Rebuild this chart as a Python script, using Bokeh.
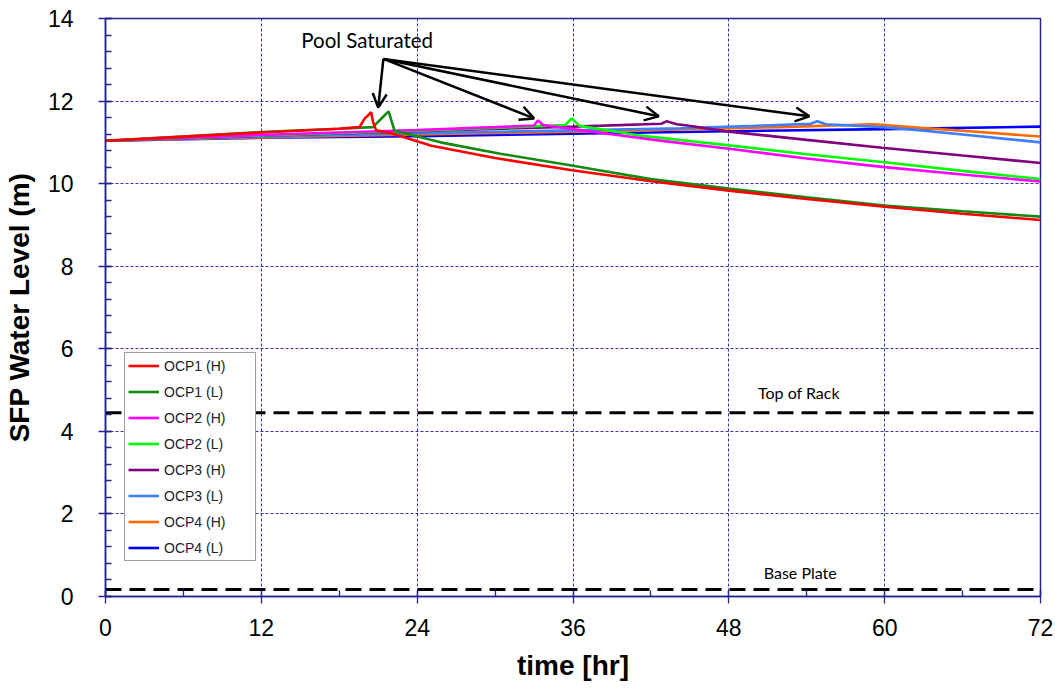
from bokeh.plotting import figure
from bokeh.models import (Range1d, SingleIntervalTicker, Arrow, OpenHead, Label,
                          ColumnDataSource)
from bokeh.embed import file_html
from bokeh.resources import INLINE

# ---------------- data ----------------
t_ocp1h = [0, 6, 12, 18, 19.56, 19.94, 20.46, 20.6, 20.85, 22, 25.1, 30, 35.8, 42, 48, 54, 60, 66, 72]
h_ocp1h = [11.04, 11.14, 11.24, 11.33, 11.37, 11.57, 11.73, 11.49, 11.29, 11.22, 10.92, 10.62, 10.33, 10.06, 9.83, 9.63, 9.44, 9.27, 9.12]

t_ocp1l = [0, 6, 12, 18, 20.6, 21.0, 21.8, 22.25, 22.8, 25.8, 30.5, 35.9, 37.9, 42, 48, 54, 60, 66, 72]
h_ocp1l = [11.04, 11.14, 11.25, 11.33, 11.37, 11.50, 11.75, 11.29, 11.24, 11.00, 10.72, 10.44, 10.33, 10.11, 9.88, 9.67, 9.47, 9.33, 9.20]

t_ocp2h = [0, 12, 24, 30, 33.0, 33.3, 33.7, 36, 39.4, 43, 48.2, 54, 60, 66, 72]
h_ocp2h = [11.04, 11.18, 11.30, 11.37, 11.41, 11.53, 11.42, 11.32, 11.18, 11.03, 10.84, 10.61, 10.40, 10.22, 10.05]

t_ocp2l = [0, 12, 24, 30, 35.4, 35.9, 36.5, 38.5, 41, 48.2, 54, 60, 66, 72]
h_ocp2l = [11.04, 11.17, 11.28, 11.35, 11.42, 11.58, 11.40, 11.30, 11.17, 10.92, 10.71, 10.52, 10.31, 10.11]

t_ocp3h = [0, 12, 24, 36, 42.8, 43.2, 44.0, 44.8, 48, 54, 59.8, 66, 72]
h_ocp3h = [11.04, 11.16, 11.27, 11.38, 11.45, 11.51, 11.44, 11.41, 11.26, 11.06, 10.87, 10.68, 10.50]

t_ocp3l = [0, 12, 24, 36, 44.3, 50, 54.3, 54.8, 55.5, 59.8, 62.8, 66, 72]
h_ocp3l = [11.04, 11.14, 11.22, 11.29, 11.34, 11.40, 11.45, 11.51, 11.44, 11.37, 11.29, 11.19, 11.00]

t_ocp4h = [0, 12, 24, 36, 44.3, 52, 59.2, 62.8, 66, 72]
h_ocp4h = [11.04, 11.12, 11.19, 11.26, 11.31, 11.37, 11.44, 11.35, 11.28, 11.14]

t_ocp4l = [0, 12, 24, 36, 48, 60, 72]
h_ocp4l = [11.04, 11.11, 11.15, 11.21, 11.27, 11.32, 11.38]

series_names = ["OCP1 (H)", "OCP1 (L)", "OCP2 (H)", "OCP2 (L)",
                "OCP3 (H)", "OCP3 (L)", "OCP4 (H)", "OCP4 (L)"]

top_of_rack = 4.45
base_plate = 0.17

annot_text = "Pool Saturated"
annot_t = 20.15
annot_h = 13.47
arrow_tail_t = 21.4
arrow_tail_h = 13.02
arrow_head_t = [21.0, 33.0, 42.6, 54.2]
arrow_head_h = [11.84, 11.58, 11.63, 11.63]

rack_label = "Top of Rack"
rack_label_t, rack_label_h = 53.4, 4.95
plate_label = "Base Plate"
plate_label_t, plate_label_h = 53.5, 0.58

x_label = "time [hr]"
y_label = "SFP Water Level (m)"

# ---------------- styling ----------------
colors = ["#FF0000", "#138A13", "#FF00FF", "#00FF00",
          "#800080", "#3F7FFF", "#FF6A00", "#0000FF"]
axis_col = "#24248C"
grid_col = "#3535A8"
ARIAL = "Liberation Sans"

p = figure(width=1053, height=688, output_backend="svg", toolbar_location=None,
           x_range=Range1d(0, 72), y_range=Range1d(0, 14),
           min_border_left=104, min_border_right=13, min_border_top=18,
           min_border_bottom=92, background_fill_color="white",
           border_fill_color="white")

p.outline_line_color = axis_col
p.outline_line_width = 1.5

p.xaxis.ticker = SingleIntervalTicker(interval=12, num_minor_ticks=2)
p.yaxis.ticker = SingleIntervalTicker(interval=2, num_minor_ticks=5)

for ax in (p.xaxis[0], p.yaxis[0]):
    ax.axis_line_color = axis_col
    ax.axis_line_width = 1.5
    ax.major_tick_line_color = axis_col
    ax.minor_tick_line_color = axis_col
    ax.major_tick_line_width = 1.3
    ax.minor_tick_line_width = 1.3
    ax.major_tick_in = 6
    ax.major_tick_out = 7
    ax.minor_tick_in = 6
    ax.minor_tick_out = 0
    ax.major_label_text_font = ARIAL
    ax.major_label_text_font_size = "23px"
    ax.major_label_text_color = "black"
    ax.axis_label_text_font = ARIAL
    ax.axis_label_text_font_style = "bold"
    ax.axis_label_text_font_size = "28px"
    ax.axis_label_text_color = "black"

p.xaxis.axis_label = x_label
p.yaxis.axis_label = y_label
p.xaxis.major_label_standoff = 15
p.yaxis.major_label_standoff = 25
p.xaxis.axis_label_standoff = 11
p.yaxis.axis_label_standoff = 10

for g in (p.xgrid[0], p.ygrid[0]):
    g.grid_line_color = grid_col
    g.grid_line_width = 1
    g.grid_line_dash = "3 2"

# reference lines
p.line([0, 72], [top_of_rack, top_of_rack], line_color="black", line_width=3, line_dash="16 8")
p.line([0, 72], [base_plate, base_plate], line_color="black", line_width=3, line_dash="16 8")

all_t = [t_ocp1h, t_ocp1l, t_ocp2h, t_ocp2l, t_ocp3h, t_ocp3l, t_ocp4h, t_ocp4l]
all_h = [h_ocp1h, h_ocp1l, h_ocp2h, h_ocp2l, h_ocp3h, h_ocp3l, h_ocp4h, h_ocp4l]

draw_order = [7, 6, 5, 4, 3, 2, 1, 0]
for i in draw_order:
    p.line(all_t[i], all_h[i], line_color=colors[i], line_width=2.6,
           legend_label=series_names[i])

# reorder legend items to match reference
leg = p.legend[0]
items = {it.label.value: it for it in leg.items}
leg.items = [items[n] for n in series_names]
leg.location = (19, 35)
leg.margin = 0
leg.padding = 3
leg.spacing = 7
leg.glyph_height = 19
leg.label_height = 19
leg.glyph_width = 31
leg.label_width = 88
leg.label_standoff = 5
leg.label_text_font = ARIAL
leg.label_text_font_size = "14px"
leg.label_text_color = "#222222"
leg.border_line_color = "#404040"
leg.border_line_width = 1.2
leg.background_fill_color = "white"
leg.background_fill_alpha = 1.0

# annotations
arrow_src = ColumnDataSource(dict(
    xs=[arrow_tail_t] * len(arrow_head_t), ys=[arrow_tail_h] * len(arrow_head_h),
    xe=arrow_head_t, ye=arrow_head_h))
p.add_layout(Arrow(end=OpenHead(size=14, line_width=2.5, line_color="black"),
                   x_start="xs", y_start="ys", x_end="xe", y_end="ye",
                   source=arrow_src, line_width=2.5, line_color="black"))

p.add_layout(Label(x=annot_t, y=annot_h, text=annot_text, text_align="center",
                   text_baseline="middle", text_font="Lato", text_font_size="20.5px",
                   text_color="black"))
p.add_layout(Label(x=rack_label_t, y=rack_label_h, text=rack_label, text_align="center",
                   text_baseline="middle", text_font="Lato", text_font_size="16px",
                   text_color="black"))
p.add_layout(Label(x=plate_label_t, y=plate_label_h, text=plate_label, text_align="center",
                   text_baseline="middle", text_font="Lato", text_font_size="16px",
                   text_color="black"))

open("out.html", "w").write(file_html(p, INLINE))
